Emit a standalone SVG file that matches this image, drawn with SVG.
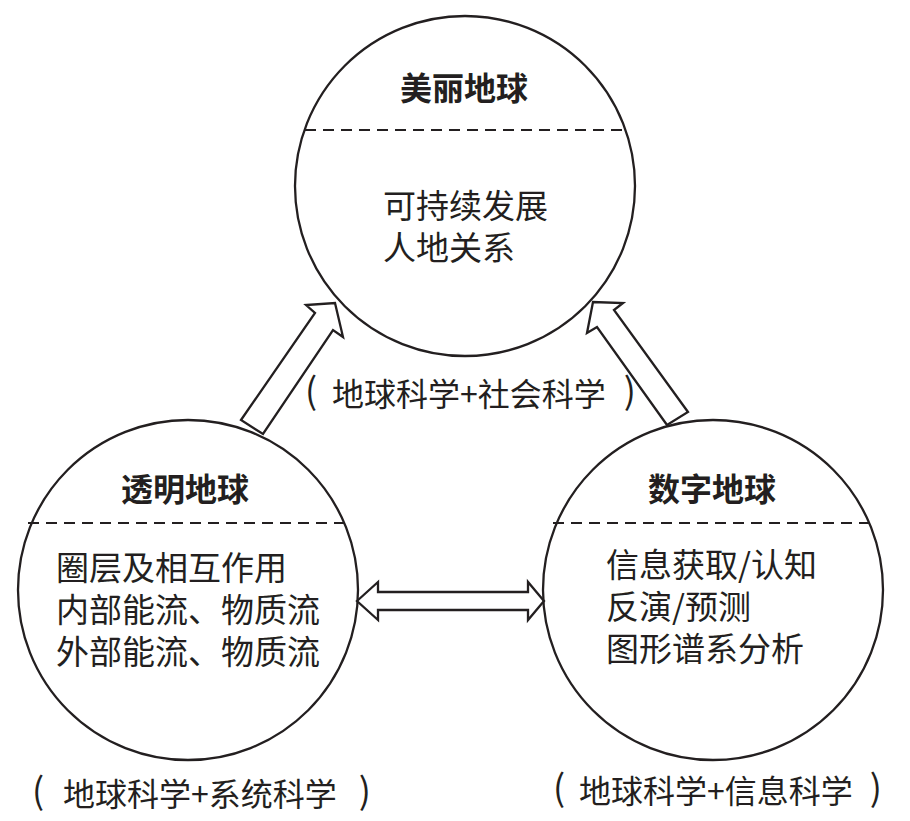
<svg xmlns="http://www.w3.org/2000/svg" width="910" height="821" viewBox="0 0 910 821">
<style>
.bg{fill:#ffffff}
.circ{fill:none;stroke:#231f20;stroke-width:2.3}
.dash{stroke:#231f20;stroke-width:2;stroke-dasharray:11 7;fill:none}
.arrow{fill:#ffffff;stroke:#231f20;stroke-width:2.3;stroke-linejoin:miter}
text{font-family:"Noto Sans CJK SC","Noto Sans",sans-serif;fill:#231f20}
.title{font-size:32px;font-weight:bold;text-anchor:middle}
.body{font-size:33px}
.label{font-size:32px;text-anchor:middle}
.par{font-size:36px;font-weight:normal}
.pe{text-anchor:end}
</style>
<rect class="bg" x="0" y="0" width="910" height="821"/>
<g id="connectors">
<polygon class="arrow" points="241,420 315,313 306,305 335,303 343,337 333,330 263,434"/>
<polygon class="arrow" points="667,425 597,327 587,333 593,302 623,303 614,310 688,412"/>
<polygon class="arrow" points="357,601 378,582 378,592 528,592 528,582 544,601 528,620 528,610 378,610 378,620"/>
</g>
<g id="node-beautiful">
<circle class="circ" cx="465" cy="186" r="170"/>
<line class="dash" x1="305" y1="130" x2="625" y2="130"/>
<text class="title" x="464" y="100">美丽地球</text>
<text class="body" x="383" y="218"><tspan x="383" y="218">可持续发展</tspan><tspan x="383" y="260">人地关系</tspan></text>
</g>
<g id="node-transparent">
<circle class="circ" cx="188" cy="590" r="170"/>
<line class="dash" x1="28" y1="523" x2="348" y2="523"/>
<text class="title" x="185" y="501">透明地球</text>
<text class="body" x="56" y="580"><tspan x="56" y="580">圈层及相互作用</tspan><tspan x="56" y="622">内部能流、物质流</tspan><tspan x="56" y="664">外部能流、物质流</tspan></text>
</g>
<g id="node-digital">
<circle class="circ" cx="713" cy="590" r="170"/>
<line class="dash" x1="553" y1="523" x2="873" y2="523"/>
<text class="title" x="712" y="501">数字地球</text>
<text class="body" x="606" y="577"><tspan x="606" y="577">信息获取/认知</tspan><tspan x="606" y="619">反演/预测</tspan><tspan x="606" y="661">图形谱系分析</tspan></text>
</g>
<g id="labels">
<text class="par" x="305" y="404">(</text>
<text class="label" x="469" y="406">地球科学+社会科学</text>
<text class="par pe" x="636" y="404">)</text>
<text class="par" x="32" y="804">(</text>
<text class="label" x="200" y="806">地球科学+系统科学</text>
<text class="par pe" x="371" y="804">)</text>
<text class="par" x="553" y="801">(</text>
<text class="label" x="716" y="803">地球科学+信息科学</text>
<text class="par pe" x="882" y="801">)</text>
</g>
</svg>
